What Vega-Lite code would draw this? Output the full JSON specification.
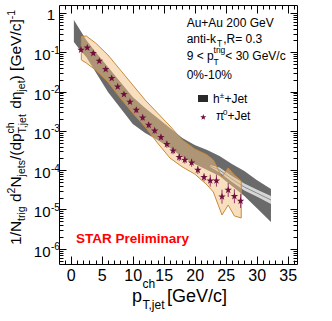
{
"$schema":"https://vega.github.io/schema/vega-lite/v6.json",
"width":238,"height":259,
"autosize":{"type":"none"},
"padding":{"left":59,"top":5,"right":35,"bottom":57},
"background":"white",
"config":{"view":{"stroke":"#000","strokeWidth":1},"axis":{"grid":false,"domain":false,"labels":false,"tickColor":"#000","tickWidth":1},"text":{"font":"Liberation Sans","color":"#000"}},
"datasets":{
"gray":[{"x":0.5,"hi":0.664,"lo":0.1828},{"x":1.5,"hi":0.369,"lo":0.1144},{"x":2.5,"hi":0.2056,"lo":0.0759},{"x":4,"hi":0.1018,"lo":0.0315},{"x":6,"hi":0.0422,"lo":0.00977},{"x":8,"hi":0.01755,"lo":0.00383},{"x":10,"hi":0.00729,"lo":0.0015},{"x":12,"hi":0.00383,"lo":0.000885},{"x":14,"hi":0.00213,"lo":0.000587},{"x":16,"hi":0.001186,"lo":0.000367},{"x":18,"hi":0.00066,"lo":0.000217},{"x":20,"hi":0.000438,"lo":0.0001438},{"x":22,"hi":0.000327,"lo":0.0001012},{"x":24,"hi":0.00023,"lo":0.0000712},{"x":26,"hi":0.0001438,"lo":0.0000396},{"x":28,"hi":0.0000955,"lo":0.0000221},{"x":30,"hi":0.0000564,"lo":0.00001092},{"x":32.3,"hi":0.0000332,"lo":0.00000481}],
"light":[{"x":22.5,"c":0.0001279,"lo":0.0001207,"hi":0.0001356},{"x":24,"c":0.0001012,"lo":0.0000874,"hi":0.0001172},{"x":26,"c":0.0000597,"lo":0.0000501,"hi":0.0000712},{"x":28,"c":0.0000374,"lo":0.0000305,"hi":0.0000459},{"x":30,"c":0.0000263,"lo":0.0000214,"hi":0.0000323},{"x":32.3,"c":0.00001745,"lo":0.0000138,"hi":0.0000221}],
"tan":[{"x":1.7,"hi":0.252,"lo":0.0637},{"x":2.5,"hi":0.26,"lo":0.0534},{"x":4,"hi":0.1725,"lo":0.0355},{"x":6,"hi":0.0853,"lo":0.01755},{"x":8,"hi":0.0355,"lo":0.00687},{"x":10,"hi":0.01472,"lo":0.00285},{"x":12,"hi":0.00611,"lo":0.001257},{"x":14,"hi":0.00285,"lo":0.000492},{"x":16,"hi":0.001333,"lo":0.000204},{"x":18,"hi":0.000586,"lo":0.0001206},{"x":20,"hi":0.000346,"lo":0.00008},{"x":22,"hi":0.000244,"lo":0.000042},{"x":23,"hi":0.000182,"lo":0.0000279},{"x":24.4,"hi":0.0000671,"lo":0.00000724},{"x":25.4,"hi":0.000114,"lo":0.000013},{"x":26.4,"hi":0.0000755,"lo":0.00000684},{"x":27.5,"hi":0.0000531,"lo":0.00000608}],
"pi":[{"x":1.65,"y":0.1145,"lo":0.1019,"hi":0.1287},{"x":2.66,"y":0.131,"lo":0.1165,"hi":0.1472},{"x":3.63,"y":0.0944,"lo":0.084,"hi":0.1061},{"x":4.6,"y":0.06,"lo":0.0534,"hi":0.0674},{"x":5.63,"y":0.0369,"lo":0.0328,"hi":0.0415},{"x":6.6,"y":0.0218,"lo":0.0194,"hi":0.0245},{"x":7.57,"y":0.01333,"lo":0.01186,"hi":0.01498},{"x":8.58,"y":0.00853,"lo":0.00759,"hi":0.00959},{"x":9.55,"y":0.00544,"lo":0.00484,"hi":0.00611},{"x":10.57,"y":0.0034,"lo":0.00285,"hi":0.00405},{"x":11.6,"y":0.00217,"lo":0.00182,"hi":0.00259},{"x":12.57,"y":0.00141,"lo":0.00118,"hi":0.00168},{"x":13.54,"y":0.00101,"lo":0.000847,"hi":0.0012},{"x":14.55,"y":0.000687,"lo":0.000576,"hi":0.000819},{"x":15.5,"y":0.000456,"lo":0.000371,"hi":0.00056},{"x":16.5,"y":0.000313,"lo":0.000255,"hi":0.000384},{"x":17.5,"y":0.000213,"lo":0.000173,"hi":0.000262},{"x":18.4,"y":0.000182,"lo":0.000148,"hi":0.000223},{"x":19.5,"y":0.000155,"lo":0.0001226,"hi":0.000196},{"x":20.5,"y":0.000101,"lo":0.0000799,"hi":0.0001277},{"x":21.5,"y":0.0000659,"lo":0.0000521,"hi":0.0000833},{"x":22.5,"y":0.0000541,"lo":0.0000381,"hi":0.0000768},{"x":23.5,"y":0.0000541,"lo":0.0000381,"hi":0.0000768},{"x":24.4,"y":0.0000212,"lo":0.00001407,"hi":0.0000319},{"x":25.4,"y":0.0000313,"lo":0.0000208,"hi":0.0000472},{"x":26.4,"y":0.0000217,"lo":0.0000144,"hi":0.0000327},{"x":27.4,"y":0.0000164,"lo":0.00001088,"hi":0.0000247}],
"ylab":[{"v":0.000001,"e":"-6"},{"v":0.00001,"e":"-5"},{"v":0.0001,"e":"-4"},{"v":0.001,"e":"-3"},{"v":0.01,"e":"-2"},{"v":0.1,"e":"-1"}]
},
"resolve":{"axis":{"x":"independent","y":"independent"}},
"layer":[
{"data":{"name":"gray"},"mark":{"type":"area","color":"#6a6a6a"},
 "encoding":{"x":{"field":"x","type":"quantitative","scale":{"domain":[-1.9,36.5],"nice":false,"zero":false},"axis":{"orient":"bottom","values":[0,5,10,15,20,25,30,35],"tickSize":-8,"labels":true,"labelFont":"Liberation Sans","labelFontSize":16,"labelColor":"#000","labelPadding":24,"labelBaseline":"alphabetic","labelFlush":false,"labelOverlap":false,"title":null}},
  "y":{"field":"hi","type":"quantitative","scale":{"type":"log","domain":[4.1e-7,1.598],"nice":false},"axis":{"orient":"left","values":[0.000001,0.00001,0.0001,0.001,0.01,0.1,1],"tickSize":-7,"title":null}},
  "y2":{"field":"lo"}}},
{"data":{"name":"light"},"mark":{"type":"area","color":"#d6d6d6"},
 "encoding":{"x":{"field":"x","type":"quantitative","scale":{"domain":[-1.9,36.5],"nice":false,"zero":false},"axis":{"orient":"bottom","values":[-1,0,1,2,3,4,5,6,7,8,9,10,11,12,13,14,15,16,17,18,19,20,21,22,23,24,25,26,27,28,29,30,31,32,33,34,35,36],"tickSize":-4,"title":null}},
  "y":{"field":"hi","type":"quantitative","scale":{"type":"log","domain":[4.1e-7,1.598],"nice":false},"axis":{"orient":"left","tickCount":100,"tickSize":-4,"title":null}},
  "y2":{"field":"lo"}}},
{"data":{"name":"light"},"mark":{"type":"line","color":"#8a8a8a","strokeWidth":1},
 "encoding":{"x":{"field":"x","type":"quantitative","scale":{"domain":[-1.9,36.5],"nice":false,"zero":false},"axis":{"orient":"top","values":[0,5,10,15,20,25,30,35],"tickSize":-8,"title":null}},
  "y":{"field":"c","type":"quantitative","scale":{"type":"log","domain":[4.1e-7,1.598],"nice":false},"axis":{"orient":"right","values":[0.000001,0.00001,0.0001,0.001,0.01,0.1,1],"tickSize":-7,"title":null}}}},
{"data":{"name":"tan"},"mark":{"type":"area","color":"#efbf81","fillOpacity":0.5,"stroke":"#c98b3a","strokeWidth":1},
 "encoding":{"x":{"field":"x","type":"quantitative","scale":{"domain":[-1.9,36.5],"nice":false,"zero":false},"axis":{"orient":"top","values":[-1,0,1,2,3,4,5,6,7,8,9,10,11,12,13,14,15,16,17,18,19,20,21,22,23,24,25,26,27,28,29,30,31,32,33,34,35,36],"tickSize":-4,"title":null}},
  "y":{"field":"hi","type":"quantitative","scale":{"type":"log","domain":[4.1e-7,1.598],"nice":false},"axis":{"orient":"right","tickCount":100,"tickSize":-4,"title":null}},
  "y2":{"field":"lo"}}},
{"data":{"name":"pi"},"mark":{"type":"rule","color":"#9a3c66","strokeWidth":1},
 "encoding":{"x":{"field":"x","type":"quantitative","scale":{"domain":[-1.9,36.5],"nice":false,"zero":false},"axis":null},
  "y":{"field":"lo","type":"quantitative","scale":{"type":"log","domain":[4.1e-7,1.598],"nice":false},"axis":null},
  "y2":{"field":"hi"}}},
{"data":{"name":"pi"},"mark":{"type":"point","filled":true,"color":"#6e0f3c","opacity":1,"size":60,"shape":"M0,-1L0.235,-0.324L0.951,-0.309L0.38,0.124L0.588,0.809L0,0.4L-0.588,0.809L-0.38,0.124L-0.951,-0.309L-0.235,-0.324Z"},
 "encoding":{"x":{"field":"x","type":"quantitative","scale":{"domain":[-1.9,36.5],"nice":false,"zero":false},"axis":null},
  "y":{"field":"y","type":"quantitative","scale":{"type":"log","domain":[4.1e-7,1.598],"nice":false},"axis":null}}},
{"data":{"name":"ylab"},"mark":{"type":"text","align":"right","baseline":"middle","fontSize":15,"dy":3},
 "encoding":{"x":{"datum":-3.271,"type":"quantitative","scale":{"domain":[-1.9,36.5],"nice":false,"zero":false},"axis":null},
  "y":{"field":"v","type":"quantitative","scale":{"type":"log","domain":[4.1e-7,1.598],"nice":false},"axis":null},
  "text":{"value":"10"}}},
{"data":{"name":"ylab"},"mark":{"type":"text","align":"left","baseline":"alphabetic","fontSize":10,"dy":1.5},
 "encoding":{"x":{"datum":-3.191,"type":"quantitative","scale":{"domain":[-1.9,36.5],"nice":false,"zero":false},"axis":null},
  "y":{"field":"v","type":"quantitative","scale":{"type":"log","domain":[4.1e-7,1.598],"nice":false},"axis":null},
  "text":{"field":"e"}}},
{"data":{"values":[{}]},"mark":{"type":"text","align":"right","baseline":"middle","fontSize":15,"dy":2},
 "encoding":{"x":{"datum":-2.545,"type":"quantitative","scale":{"domain":[-1.9,36.5],"nice":false,"zero":false},"axis":null},
  "y":{"datum":1,"type":"quantitative","scale":{"type":"log","domain":[4.1e-7,1.598],"nice":false},"axis":null},
  "text":{"value":"1"}}},
{"data":{"values":[{}]},"mark":{"type":"text","align":"left","baseline":"alphabetic","fontSize":15.5,"angle":270},"encoding":{"x":{"datum":-8.031,"type":"quantitative","scale":{"domain":[-1.9,36.5],"nice":false,"zero":false},"axis":null},"y":{"datum":1.25e-6,"type":"quantitative","scale":{"type":"log","domain":[4.1e-7,1.598],"nice":false},"axis":null},"text":{"value":"1/N"}}},
{"data":{"values":[{}]},"mark":{"type":"text","align":"left","baseline":"alphabetic","fontSize":10.5,"angle":270},"encoding":{"x":{"datum":-7.386,"type":"quantitative","scale":{"domain":[-1.9,36.5],"nice":false,"zero":false},"axis":null},"y":{"datum":5.13e-6,"type":"quantitative","scale":{"type":"log","domain":[4.1e-7,1.598],"nice":false},"axis":null},"text":{"value":"trig"}}},
{"data":{"values":[{}]},"mark":{"type":"text","align":"left","baseline":"alphabetic","fontSize":15.5,"angle":270},"encoding":{"x":{"datum":-8.031,"type":"quantitative","scale":{"domain":[-1.9,36.5],"nice":false,"zero":false},"axis":null},"y":{"datum":1.552e-5,"type":"quantitative","scale":{"type":"log","domain":[4.1e-7,1.598],"nice":false},"axis":null},"text":{"value":"d"}}},
{"data":{"values":[{}]},"mark":{"type":"text","align":"left","baseline":"alphabetic","fontSize":10.5,"angle":270},"encoding":{"x":{"datum":-8.999,"type":"quantitative","scale":{"domain":[-1.9,36.5],"nice":false,"zero":false},"axis":null},"y":{"datum":2.57e-5,"type":"quantitative","scale":{"type":"log","domain":[4.1e-7,1.598],"nice":false},"axis":null},"text":{"value":"2"}}},
{"data":{"values":[{}]},"mark":{"type":"text","align":"left","baseline":"alphabetic","fontSize":15.5,"angle":270},"encoding":{"x":{"datum":-8.031,"type":"quantitative","scale":{"domain":[-1.9,36.5],"nice":false,"zero":false},"axis":null},"y":{"datum":3.61e-5,"type":"quantitative","scale":{"type":"log","domain":[4.1e-7,1.598],"nice":false},"axis":null},"text":{"value":"N"}}},
{"data":{"values":[{}]},"mark":{"type":"text","align":"left","baseline":"alphabetic","fontSize":10.5,"angle":270},"encoding":{"x":{"datum":-7.386,"type":"quantitative","scale":{"domain":[-1.9,36.5],"nice":false,"zero":false},"axis":null},"y":{"datum":6.95e-5,"type":"quantitative","scale":{"type":"log","domain":[4.1e-7,1.598],"nice":false},"axis":null},"text":{"value":"jets"}}},
{"data":{"values":[{}]},"mark":{"type":"text","align":"left","baseline":"alphabetic","fontSize":15.5,"angle":270},"encoding":{"x":{"datum":-8.031,"type":"quantitative","scale":{"domain":[-1.9,36.5],"nice":false,"zero":false},"axis":null},"y":{"datum":1.807e-4,"type":"quantitative","scale":{"type":"log","domain":[4.1e-7,1.598],"nice":false},"axis":null},"text":{"value":"/(dp"}}},
{"data":{"values":[{}]},"mark":{"type":"text","align":"left","baseline":"alphabetic","fontSize":10.5,"angle":270},"encoding":{"x":{"datum":-9.15,"type":"quantitative","scale":{"domain":[-1.9,36.5],"nice":false,"zero":false},"axis":null},"y":{"datum":8.63e-4,"type":"quantitative","scale":{"type":"log","domain":[4.1e-7,1.598],"nice":false},"axis":null},"text":{"value":"ch"}}},
{"data":{"values":[{}]},"mark":{"type":"text","align":"left","baseline":"alphabetic","fontSize":10.5,"angle":270},"encoding":{"x":{"datum":-7.3,"type":"quantitative","scale":{"domain":[-1.9,36.5],"nice":false,"zero":false},"axis":null},"y":{"datum":8.63e-4,"type":"quantitative","scale":{"type":"log","domain":[4.1e-7,1.598],"nice":false},"axis":null},"text":{"value":"T,jet"}}},
{"data":{"values":[{}]},"mark":{"type":"text","align":"left","baseline":"alphabetic","fontSize":15.5,"angle":270},"encoding":{"x":{"datum":-8.031,"type":"quantitative","scale":{"domain":[-1.9,36.5],"nice":false,"zero":false},"axis":null},"y":{"datum":3.67e-3,"type":"quantitative","scale":{"type":"log","domain":[4.1e-7,1.598],"nice":false},"axis":null},"text":{"value":"dη"}}},
{"data":{"values":[{}]},"mark":{"type":"text","align":"left","baseline":"alphabetic","fontSize":10.5,"angle":270},"encoding":{"x":{"datum":-7.386,"type":"quantitative","scale":{"domain":[-1.9,36.5],"nice":false,"zero":false},"axis":null},"y":{"datum":1.006e-2,"type":"quantitative","scale":{"type":"log","domain":[4.1e-7,1.598],"nice":false},"axis":null},"text":{"value":"jet"}}},
{"data":{"values":[{}]},"mark":{"type":"text","align":"left","baseline":"alphabetic","fontSize":15.5,"angle":270},"encoding":{"x":{"datum":-8.031,"type":"quantitative","scale":{"domain":[-1.9,36.5],"nice":false,"zero":false},"axis":null},"y":{"datum":1.928e-2,"type":"quantitative","scale":{"type":"log","domain":[4.1e-7,1.598],"nice":false},"axis":null},"text":{"value":") [GeV/c]"}}},
{"data":{"values":[{}]},"mark":{"type":"text","align":"left","baseline":"alphabetic","fontSize":10.5,"angle":270},"encoding":{"x":{"datum":-8.999,"type":"quantitative","scale":{"domain":[-1.9,36.5],"nice":false,"zero":false},"axis":null},"y":{"datum":0.695,"type":"quantitative","scale":{"type":"log","domain":[4.1e-7,1.598],"nice":false},"axis":null},"text":{"value":"-1"}}},
{"data":{"values":[{}]},"mark":{"type":"text","align":"left","baseline":"alphabetic","fontSize":18},"encoding":{"x":{"datum":9.878,"type":"quantitative","scale":{"domain":[-1.9,36.5],"nice":false,"zero":false},"axis":null},"y":{"datum":4.5e-8,"type":"quantitative","scale":{"type":"log","domain":[4.1e-7,1.598],"nice":false},"axis":null},"text":{"value":"p"}}},
{"data":{"values":[{}]},"mark":{"type":"text","align":"left","baseline":"alphabetic","fontSize":12},"encoding":{"x":{"datum":11.57,"type":"quantitative","scale":{"domain":[-1.9,36.5],"nice":false,"zero":false},"axis":null},"y":{"datum":1.0e-7,"type":"quantitative","scale":{"type":"log","domain":[4.1e-7,1.598],"nice":false},"axis":null},"text":{"value":"ch"}}},
{"data":{"values":[{}]},"mark":{"type":"text","align":"left","baseline":"alphabetic","fontSize":12},"encoding":{"x":{"datum":11.57,"type":"quantitative","scale":{"domain":[-1.9,36.5],"nice":false,"zero":false},"axis":null},"y":{"datum":3.0e-8,"type":"quantitative","scale":{"type":"log","domain":[4.1e-7,1.598],"nice":false},"axis":null},"text":{"value":"T,jet"}}},
{"data":{"values":[{}]},"mark":{"type":"text","align":"left","baseline":"alphabetic","fontSize":18},"encoding":{"x":{"datum":15.525,"type":"quantitative","scale":{"domain":[-1.9,36.5],"nice":false,"zero":false},"axis":null},"y":{"datum":4.5e-8,"type":"quantitative","scale":{"type":"log","domain":[4.1e-7,1.598],"nice":false},"axis":null},"text":{"value":"[GeV/c]"}}},
{"data":{"values":[{}]},"mark":{"type":"text","align":"left","baseline":"alphabetic","fontSize":12},"encoding":{"x":{"datum":18.7,"type":"quantitative","scale":{"domain":[-1.9,36.5],"nice":false,"zero":false},"axis":null},"y":{"datum":0.448,"type":"quantitative","scale":{"type":"log","domain":[4.1e-7,1.598],"nice":false},"axis":null},"text":{"value":"Au+Au 200 GeV"}}},
{"data":{"values":[{}]},"mark":{"type":"text","align":"left","baseline":"alphabetic","fontSize":12},"encoding":{"x":{"datum":18.7,"type":"quantitative","scale":{"domain":[-1.9,36.5],"nice":false,"zero":false},"axis":null},"y":{"datum":0.1694,"type":"quantitative","scale":{"type":"log","domain":[4.1e-7,1.598],"nice":false},"axis":null},"text":{"value":"anti-k"}}},
{"data":{"values":[{}]},"mark":{"type":"text","align":"left","baseline":"alphabetic","fontSize":8.5},"encoding":{"x":{"datum":23.6,"type":"quantitative","scale":{"domain":[-1.9,36.5],"nice":false,"zero":false},"axis":null},"y":{"datum":0.1405,"type":"quantitative","scale":{"type":"log","domain":[4.1e-7,1.598],"nice":false},"axis":null},"text":{"value":"T"}}},
{"data":{"values":[{}]},"mark":{"type":"text","align":"left","baseline":"alphabetic","fontSize":12},"encoding":{"x":{"datum":24.6,"type":"quantitative","scale":{"domain":[-1.9,36.5],"nice":false,"zero":false},"axis":null},"y":{"datum":0.1694,"type":"quantitative","scale":{"type":"log","domain":[4.1e-7,1.598],"nice":false},"axis":null},"text":{"value":",R= 0.3"}}},
{"data":{"values":[{}]},"mark":{"type":"text","align":"left","baseline":"alphabetic","fontSize":12},"encoding":{"x":{"datum":18.7,"type":"quantitative","scale":{"domain":[-1.9,36.5],"nice":false,"zero":false},"axis":null},"y":{"datum":0.0637,"type":"quantitative","scale":{"type":"log","domain":[4.1e-7,1.598],"nice":false},"axis":null},"text":{"value":"9 < p"}}},
{"data":{"values":[{}]},"mark":{"type":"text","align":"left","baseline":"alphabetic","fontSize":8.5},"encoding":{"x":{"datum":23.03,"type":"quantitative","scale":{"domain":[-1.9,36.5],"nice":false,"zero":false},"axis":null},"y":{"datum":0.0489,"type":"quantitative","scale":{"type":"log","domain":[4.1e-7,1.598],"nice":false},"axis":null},"text":{"value":"T"}}},
{"data":{"values":[{}]},"mark":{"type":"text","align":"left","baseline":"alphabetic","fontSize":8.5},"encoding":{"x":{"datum":23.03,"type":"quantitative","scale":{"domain":[-1.9,36.5],"nice":false,"zero":false},"axis":null},"y":{"datum":0.0932,"type":"quantitative","scale":{"type":"log","domain":[4.1e-7,1.598],"nice":false},"axis":null},"text":{"value":"trig"}}},
{"data":{"values":[{}]},"mark":{"type":"text","align":"left","baseline":"alphabetic","fontSize":12},"encoding":{"x":{"datum":24.93,"type":"quantitative","scale":{"domain":[-1.9,36.5],"nice":false,"zero":false},"axis":null},"y":{"datum":0.0637,"type":"quantitative","scale":{"type":"log","domain":[4.1e-7,1.598],"nice":false},"axis":null},"text":{"value":"< 30 GeV/c"}}},
{"data":{"values":[{}]},"mark":{"type":"text","align":"left","baseline":"alphabetic","fontSize":12},"encoding":{"x":{"datum":18.7,"type":"quantitative","scale":{"domain":[-1.9,36.5],"nice":false,"zero":false},"axis":null},"y":{"datum":0.0209,"type":"quantitative","scale":{"type":"log","domain":[4.1e-7,1.598],"nice":false},"axis":null},"text":{"value":"0%-10%"}}},
{"data":{"values":[{}]},"mark":{"type":"rect","color":"#2a2a2a"},"encoding":{"x":{"datum":20.53,"type":"quantitative","scale":{"domain":[-1.9,36.5],"nice":false,"zero":false},"axis":null},"x2":{"datum":22.14},"y":{"datum":0.00544,"type":"quantitative","scale":{"type":"log","domain":[4.1e-7,1.598],"nice":false},"axis":null},"y2":{"datum":0.00819}}},
{"data":{"values":[{}]},"mark":{"type":"point","filled":true,"color":"#6e0f3c","opacity":1,"size":40,"shape":"M0,-1L0.235,-0.324L0.951,-0.309L0.38,0.124L0.588,0.809L0,0.4L-0.588,0.809L-0.38,0.124L-0.951,-0.309L-0.235,-0.324Z"},"encoding":{"x":{"datum":21.38,"type":"quantitative","scale":{"domain":[-1.9,36.5],"nice":false,"zero":false},"axis":null},"y":{"datum":0.00222,"type":"quantitative","scale":{"type":"log","domain":[4.1e-7,1.598],"nice":false},"axis":null}}},
{"data":{"values":[{}]},"mark":{"type":"text","align":"left","baseline":"alphabetic","fontSize":12},"encoding":{"x":{"datum":22.95,"type":"quantitative","scale":{"domain":[-1.9,36.5],"nice":false,"zero":false},"axis":null},"y":{"datum":0.00513,"type":"quantitative","scale":{"type":"log","domain":[4.1e-7,1.598],"nice":false},"axis":null},"text":{"value":"h"}}},
{"data":{"values":[{}]},"mark":{"type":"text","align":"left","baseline":"alphabetic","fontSize":8},"encoding":{"x":{"datum":24.03,"type":"quantitative","scale":{"domain":[-1.9,36.5],"nice":false,"zero":false},"axis":null},"y":{"datum":0.00687,"type":"quantitative","scale":{"type":"log","domain":[4.1e-7,1.598],"nice":false},"axis":null},"text":{"value":"±"}}},
{"data":{"values":[{}]},"mark":{"type":"text","align":"left","baseline":"alphabetic","fontSize":12},"encoding":{"x":{"datum":24.79,"type":"quantitative","scale":{"domain":[-1.9,36.5],"nice":false,"zero":false},"axis":null},"y":{"datum":0.00513,"type":"quantitative","scale":{"type":"log","domain":[4.1e-7,1.598],"nice":false},"axis":null},"text":{"value":"+Jet"}}},
{"data":{"values":[{}]},"mark":{"type":"text","align":"left","baseline":"alphabetic","fontSize":12},"encoding":{"x":{"datum":23.43,"type":"quantitative","scale":{"domain":[-1.9,36.5],"nice":false,"zero":false},"axis":null},"y":{"datum":0.00189,"type":"quantitative","scale":{"type":"log","domain":[4.1e-7,1.598],"nice":false},"axis":null},"text":{"value":"π"}}},
{"data":{"values":[{}]},"mark":{"type":"text","align":"left","baseline":"alphabetic","fontSize":8},"encoding":{"x":{"datum":24.56,"type":"quantitative","scale":{"domain":[-1.9,36.5],"nice":false,"zero":false},"axis":null},"y":{"datum":0.00254,"type":"quantitative","scale":{"type":"log","domain":[4.1e-7,1.598],"nice":false},"axis":null},"text":{"value":"0"}}},
{"data":{"values":[{}]},"mark":{"type":"text","align":"left","baseline":"alphabetic","fontSize":12},"encoding":{"x":{"datum":25.27,"type":"quantitative","scale":{"domain":[-1.9,36.5],"nice":false,"zero":false},"axis":null},"y":{"datum":0.00189,"type":"quantitative","scale":{"type":"log","domain":[4.1e-7,1.598],"nice":false},"axis":null},"text":{"value":"+Jet"}}},
{"data":{"values":[{}]},"mark":{"type":"text","align":"left","baseline":"alphabetic","fontSize":13.5,"fontWeight":"bold","color":"#ff0000"},"encoding":{"x":{"datum":0.843,"type":"quantitative","scale":{"domain":[-1.9,36.5],"nice":false,"zero":false},"axis":null},"y":{"datum":1.38e-6,"type":"quantitative","scale":{"type":"log","domain":[4.1e-7,1.598],"nice":false},"axis":null},"text":{"value":"STAR Preliminary"}}}
]
}
